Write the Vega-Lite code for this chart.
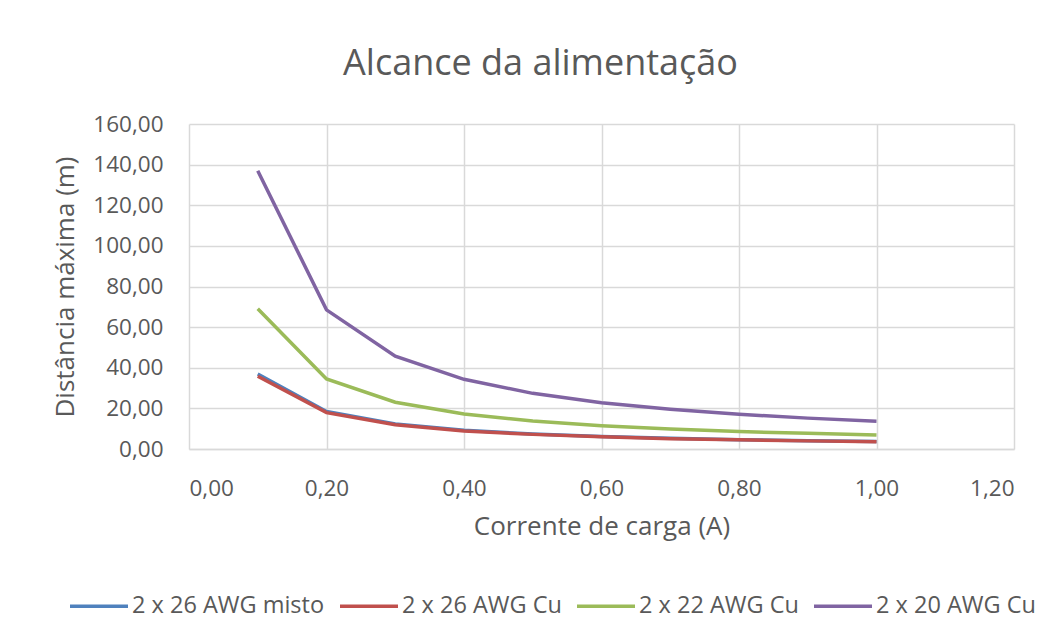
{
  "$schema": "https://vega.github.io/schema/vega-lite/v6.json",
  "width": 825,
  "height": 325,
  "autosize": {"type": "none"},
  "padding": {"left": 189, "top": 124, "right": 42, "bottom": 190},
  "background": "white",
  "title": {
    "text": "Alcance da alimentação",
    "anchor": "middle",
    "dx": -61,
    "offset": 30,
    "font": "Open Sans",
    "fontSize": 36,
    "fontWeight": "normal",
    "color": "#595959"
  },
  "config": {
    "view": {"stroke": null},
    "font": "Open Sans",
    "axis": {
      "labelFont": "Open Sans",
      "labelFontSize": 22.5,
      "labelColor": "#595959",
      "titleFont": "Open Sans",
      "titleFontSize": 26,
      "titleFontWeight": "normal",
      "titleColor": "#595959",
      "gridColor": "#D9D9D9",
      "gridWidth": 1.5,
      "ticks": false
    }
  },
  "data": {
    "values": [
      {"corrente": 0.1, "serie": "2 x 26 AWG misto", "distancia": 36.9},
      {"corrente": 0.2, "serie": "2 x 26 AWG misto", "distancia": 18.5},
      {"corrente": 0.3, "serie": "2 x 26 AWG misto", "distancia": 12.3},
      {"corrente": 0.4, "serie": "2 x 26 AWG misto", "distancia": 9.2},
      {"corrente": 0.5, "serie": "2 x 26 AWG misto", "distancia": 7.4},
      {"corrente": 0.6, "serie": "2 x 26 AWG misto", "distancia": 6.2},
      {"corrente": 0.7, "serie": "2 x 26 AWG misto", "distancia": 5.3},
      {"corrente": 0.8, "serie": "2 x 26 AWG misto", "distancia": 4.6},
      {"corrente": 0.9, "serie": "2 x 26 AWG misto", "distancia": 4.1},
      {"corrente": 1.0, "serie": "2 x 26 AWG misto", "distancia": 3.7},
      {"corrente": 0.1, "serie": "2 x 26 AWG Cu", "distancia": 35.8},
      {"corrente": 0.2, "serie": "2 x 26 AWG Cu", "distancia": 17.9},
      {"corrente": 0.3, "serie": "2 x 26 AWG Cu", "distancia": 11.9},
      {"corrente": 0.4, "serie": "2 x 26 AWG Cu", "distancia": 8.9},
      {"corrente": 0.5, "serie": "2 x 26 AWG Cu", "distancia": 7.2},
      {"corrente": 0.6, "serie": "2 x 26 AWG Cu", "distancia": 6.0},
      {"corrente": 0.7, "serie": "2 x 26 AWG Cu", "distancia": 5.1},
      {"corrente": 0.8, "serie": "2 x 26 AWG Cu", "distancia": 4.5},
      {"corrente": 0.9, "serie": "2 x 26 AWG Cu", "distancia": 4.0},
      {"corrente": 1.0, "serie": "2 x 26 AWG Cu", "distancia": 3.6},
      {"corrente": 0.1, "serie": "2 x 22 AWG Cu", "distancia": 69.0},
      {"corrente": 0.2, "serie": "2 x 22 AWG Cu", "distancia": 34.5},
      {"corrente": 0.3, "serie": "2 x 22 AWG Cu", "distancia": 23.0},
      {"corrente": 0.4, "serie": "2 x 22 AWG Cu", "distancia": 17.2},
      {"corrente": 0.5, "serie": "2 x 22 AWG Cu", "distancia": 13.8},
      {"corrente": 0.6, "serie": "2 x 22 AWG Cu", "distancia": 11.5},
      {"corrente": 0.7, "serie": "2 x 22 AWG Cu", "distancia": 9.8},
      {"corrente": 0.8, "serie": "2 x 22 AWG Cu", "distancia": 8.6},
      {"corrente": 0.9, "serie": "2 x 22 AWG Cu", "distancia": 7.7},
      {"corrente": 1.0, "serie": "2 x 22 AWG Cu", "distancia": 6.9},
      {"corrente": 0.1, "serie": "2 x 20 AWG Cu", "distancia": 137.0},
      {"corrente": 0.2, "serie": "2 x 20 AWG Cu", "distancia": 68.5},
      {"corrente": 0.3, "serie": "2 x 20 AWG Cu", "distancia": 45.7},
      {"corrente": 0.4, "serie": "2 x 20 AWG Cu", "distancia": 34.3},
      {"corrente": 0.5, "serie": "2 x 20 AWG Cu", "distancia": 27.4},
      {"corrente": 0.6, "serie": "2 x 20 AWG Cu", "distancia": 22.8},
      {"corrente": 0.7, "serie": "2 x 20 AWG Cu", "distancia": 19.6},
      {"corrente": 0.8, "serie": "2 x 20 AWG Cu", "distancia": 17.1},
      {"corrente": 0.9, "serie": "2 x 20 AWG Cu", "distancia": 15.2},
      {"corrente": 1.0, "serie": "2 x 20 AWG Cu", "distancia": 13.7}
    ]
  },
  "mark": {"type": "line", "strokeWidth": 3.5},
  "encoding": {
    "x": {
      "field": "corrente",
      "type": "quantitative",
      "title": "Corrente de carga (A)",
      "scale": {"domain": [0, 1.2], "nice": false},
      "axis": {
        "values": [0, 0.2, 0.4, 0.6, 0.8, 1.0, 1.2],
        "labelExpr": "replace(format(datum.value, '.2f'), '.', ',')",
        "labelPadding": 28,
        "titlePadding": 14,
        "domainColor": "#D9D9D9",
        "domainWidth": 1.5
      }
    },
    "y": {
      "field": "distancia",
      "type": "quantitative",
      "title": "Distância máxima (m)",
      "scale": {"domain": [0, 160], "nice": false},
      "axis": {
        "values": [0, 20, 40, 60, 80, 100, 120, 140, 160],
        "labelExpr": "replace(format(datum.value, '.2f'), '.', ',')",
        "labelPadding": 26,
        "titlePadding": 14,
        "domain": false
      }
    },
    "color": {
      "field": "serie",
      "type": "nominal",
      "title": null,
      "scale": {
        "domain": ["2 x 26 AWG misto", "2 x 26 AWG Cu", "2 x 22 AWG Cu", "2 x 20 AWG Cu"],
        "range": ["#4F81BD", "#C0504D", "#9BBB59", "#8064A2"]
      },
      "legend": {
        "orient": "none",
        "direction": "horizontal",
        "legendX": -121,
        "legendY": 451,
        "symbolType": "stroke",
        "symbolSize": 3364,
        "symbolStrokeWidth": 3.5,
        "labelFont": "Open Sans",
        "labelFontSize": 23.5,
        "labelLimit": 400,
        "labelColor": "#595959",
        "labelOffset": 2,
        "columnPadding": 8
      }
    },
    "order": {"field": "corrente", "type": "quantitative"}
  }
}
